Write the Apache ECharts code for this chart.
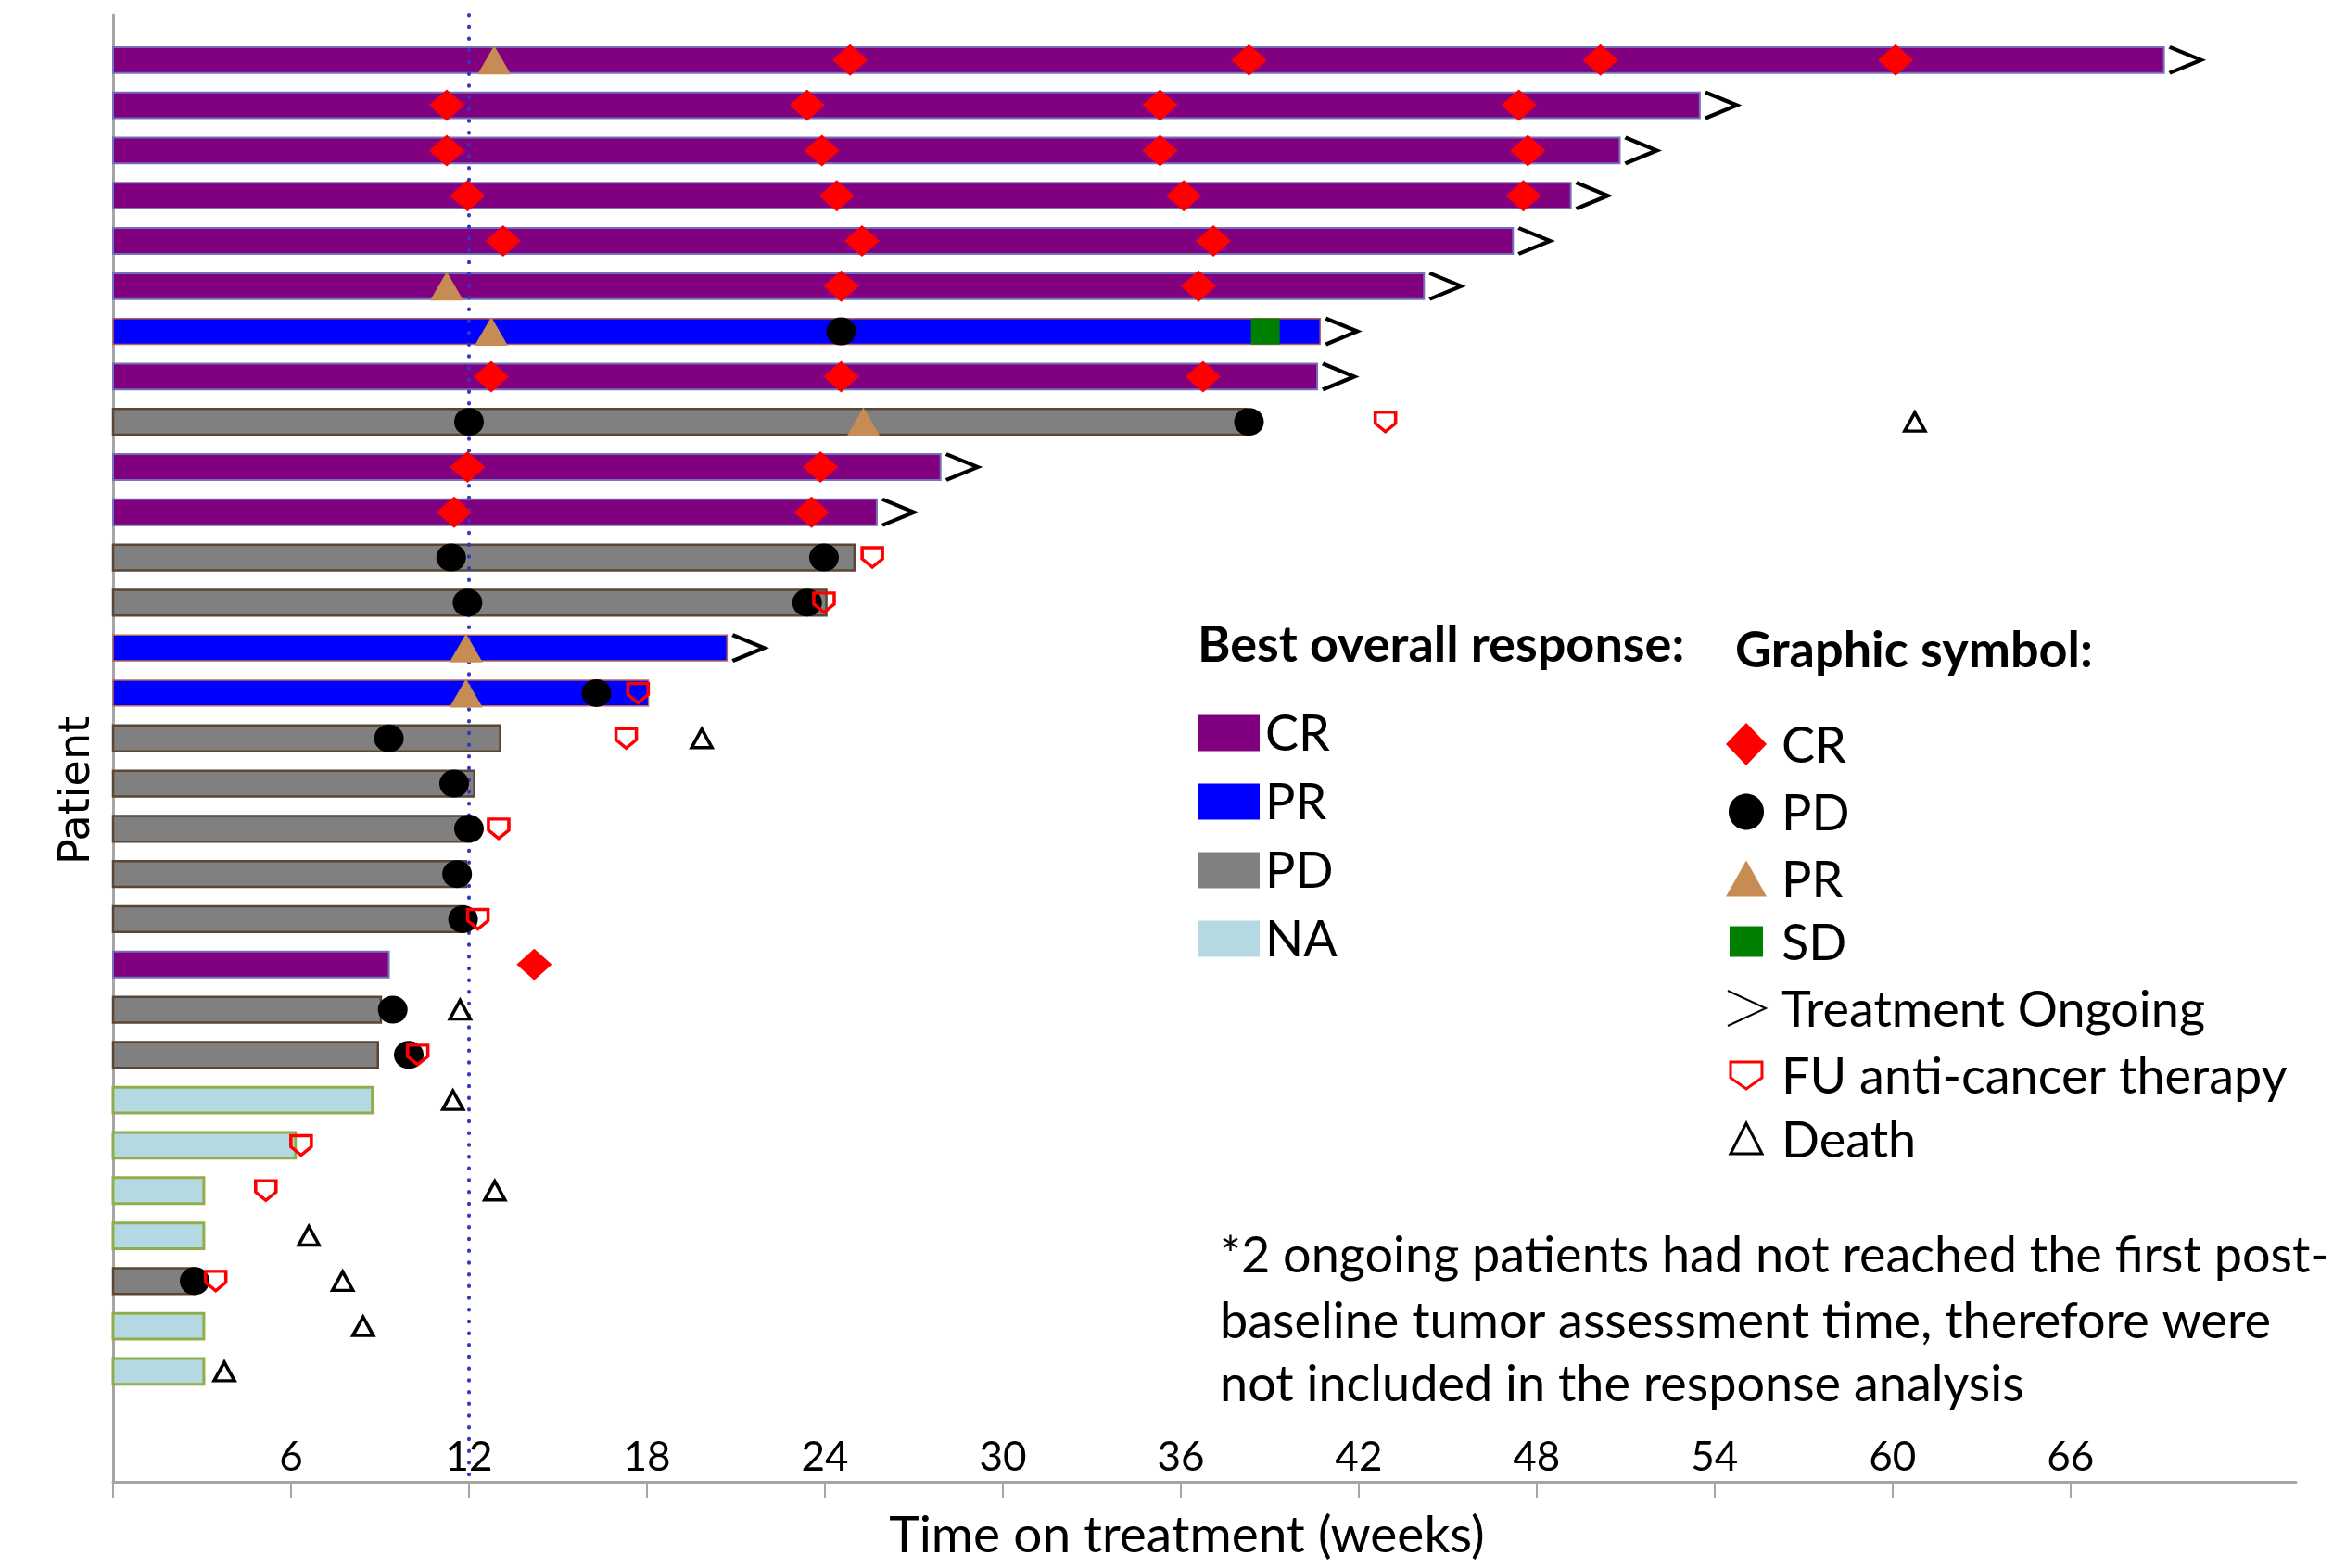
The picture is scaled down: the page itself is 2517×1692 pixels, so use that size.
<!DOCTYPE html>
<html>
<head>
<meta charset="utf-8">
<script src="https://cdn.jsdelivr.net/npm/echarts@6/dist/echarts.min.js"></script>
<style>
html,body{margin:0;padding:0;background:#fff;}
#chart{width:2517px;height:1692px;}
</style>
</head>
<body>
<div id="chart"></div>
<script>
// ---------------- DATA ----------------
// Patients from top (1) to bottom (30)
const bestResponse = ['CR','CR','CR','CR','CR','CR','PR','CR','PD','CR','CR','PD','PD','PR','PR',
                      'PD','PD','PD','PD','PD','CR','PD','PD','NA','NA','NA','NA','PD','NA','NA'];
const treatmentWeeks = [69.15, 53.5, 50.8, 49.15, 47.2, 44.2, 40.7, 40.6, 38.2, 27.9, 25.75, 25.0, 24.05, 20.7, 18.05,
                        13.05, 12.18, 12.05, 11.9, 11.85, 9.3, 9.03, 8.93, 8.74, 6.15, 3.06, 3.06, 2.75, 3.06, 3.06];
const ongoingFlag = [1,1,1,1,1,1,1,1,0,1,1,0,0,1,0, 0,0,0,0,0,0,0,0,0,0,0,0,0,0,0];

// [week, patient]
const crMarks = [[24.85,1],[38.3,1],[50.15,1],[60.1,1],[11.25,2],[23.4,2],[35.3,2],[47.4,2],
                 [11.25,3],[23.9,3],[35.3,3],[47.7,3],[11.95,4],[24.4,4],[36.1,4],[47.55,4],
                 [13.15,5],[25.25,5],[37.1,5],[24.55,6],[36.6,6],[12.75,8],[24.55,8],[36.75,8],
                 [11.95,10],[23.85,10],[11.5,11],[23.55,11],[14.2,21]];
const pdMarks = [[24.55,7],[12.0,9],[38.3,9],[11.4,12],[23.97,12],[11.95,13],[23.4,13],[16.3,15],
                 [9.3,16],[11.5,17],[12.0,18],[11.6,19],[11.8,20],[9.43,22],[9.97,23],[2.75,28]];
const prMarks = [[12.85,1],[11.25,6],[12.75,7],[25.3,9],[11.9,14],[11.9,15]];
const sdMarks = [[38.85,7]];
const fuMarks = [[42.9,9],[25.6,12],[23.97,13],[17.7,15],[17.3,16],[13.0,18],[12.3,20],[10.27,23],
                 [6.34,25],[5.15,26],[3.46,28]];
const deathMarks = [[60.75,9],[19.85,16],[11.7,22],[11.46,24],[12.87,26],[6.6,27],[7.74,28],[8.43,29],[3.75,30]];

const assessmentWeek = 12;
const xTickValues = [0,6,12,18,24,30,36,42,48,54,60,66];
const xLabelValues = [6,12,18,24,30,36,42,48,54,60,66];

const responseNames = ['CR','PR','PD','NA'];
const symbolNames = ['CR','PD','PR','SD','Treatment Ongoing','FU anti-cancer therapy','Death'];
const footnoteLines = ['*2 ongoing patients had not reached the first post-',
                       'baseline tumor assessment time, therefore were',
                       'not included in the response analysis'];

// ---------------- STYLE ----------------
const FONT = 'Lato';
const BAR_THICK = 0.57;
const barStyles = {
  CR: {fill:'#800080', stroke:'#7272b8', lw:2},
  PR: {fill:'#0000ff', stroke:'#b8645a', lw:1.5},
  PD: {fill:'#808080', stroke:'#5a4633', lw:2.5},
  NA: {fill:'#b5d9e3', stroke:'#8fae4a', lw:3}
};

function barSeries(cat) {
  const st = barStyles[cat];
  const data = [];
  treatmentWeeks.forEach((w, i) => { if (bestResponse[i] === cat) data.push([w, i + 1]); });
  return {
    type: 'custom', name: cat + ' response', z: 2, silent: true,
    encode: {x: 0, y: 1},
    data: data,
    renderItem: function (params, api) {
      const end = api.value(0), row = api.value(1);
      const p0 = api.coord([0, row]);
      const p1 = api.coord([end, row]);
      const h = Math.abs(api.size([0, BAR_THICK])[1]);
      return {
        type: 'rect',
        shape: {x: p0[0], y: p0[1] - h / 2, width: p1[0] - p0[0], height: h},
        style: {fill: st.fill, stroke: st.stroke, lineWidth: st.lw}
      };
    }
  };
}

function markSeries(name, data, symbol, size, itemStyle, z, extra) {
  return Object.assign({
    type: 'scatter', name: name, data: data, symbol: symbol, symbolSize: size,
    itemStyle: Object.assign({opacity: 1}, itemStyle), z: z, silent: true, animation: false
  }, extra || {});
}

const ongoingData = [];
treatmentWeeks.forEach((w, i) => { if (ongoingFlag[i]) ongoingData.push([w, i + 1]); });

const series = [
  barSeries('CR'), barSeries('PR'), barSeries('PD'), barSeries('NA'),
  {
    type: 'scatter', name: 'assessment', data: [], z: 3, silent: true,
    markLine: {
      silent: true, symbol: ['none', 'none'], animation: false,
      label: {show: false},
      lineStyle: {color: '#3434c4', width: 4, type: [0.5, 12.2], cap: 'round', opacity: 1},
      data: [{xAxis: assessmentWeek}]
    }
  },
  markSeries('CR mark', crMarks, 'diamond', [38, 34], {color: '#ff0000'}, 5),
  markSeries('PD mark', pdMarks, 'circle', [32, 30], {color: '#000000'}, 5),
  markSeries('PR mark', prMarks, 'triangle', [36, 31], {color: '#c68c53'}, 6),
  markSeries('SD mark', sdMarks, 'rect', [31, 28], {color: '#008000'}, 5),
  markSeries('Ongoing', ongoingData, 'path://M0,0 L35,14 L0,28', [34, 28],
             {color: 'transparent', borderColor: '#000000', borderWidth: 4.5}, 7, {symbolOffset: [23, 0]}),
  markSeries('FU', fuMarks, 'path://M0,0 L20,0 L20,12 L10,21 L0,12 Z', [22, 21],
             {color: 'transparent', borderColor: '#ff0000', borderWidth: 3.5}, 8),
  markSeries('Death', deathMarks, 'triangle', [22, 20],
             {color: 'transparent', borderColor: '#000000', borderWidth: 3.5}, 8)
];

// ---------------- LEGEND / TEXT (graphic) ----------------
const graphics = [];
function txt(text, x, y, size, opts) {
  opts = opts || {};
  graphics.push({
    type: 'text', x: x, y: y, rotation: opts.rotation || 0, silent: true,
    style: {
      text: text, fill: '#000',
      font: (opts.bold ? 'bold ' : '') + size + 'px ' + (opts.family || FONT),
      textAlign: opts.align || 'left', textVerticalAlign: 'middle', verticalAlign: 'middle'
    }
  });
}
txt('Patient', 84, 853, 46, {family: '"DejaVu Sans"', align: 'center', rotation: Math.PI / 2});

txt('Best overall response:', 1292, 697, 54, {bold: true});
txt('Graphic symbol:', 1872, 703, 54, {bold: true});

const respColors = {CR: '#800080', PR: '#0000ff', PD: '#808080', NA: '#b5d9e3'};
const respY = [791, 865, 939, 1013];
responseNames.forEach((n, i) => {
  graphics.push({type: 'rect', silent: true, shape: {x: 1292, y: respY[i] - 19.5, width: 67, height: 39},
                 style: {fill: respColors[n]}});
  txt(n, 1365, respY[i] + 2, 54);
});

const symY = [803, 876, 948, 1016, 1088, 1160, 1229];
const cx = 1884;
graphics.push({type: 'polygon', silent: true,
  shape: {points: [[cx - 22, symY[0]], [cx, symY[0] - 23], [cx + 22, symY[0]], [cx, symY[0] + 23]]},
  style: {fill: '#ff0000'}});
graphics.push({type: 'ellipse', silent: true, shape: {cx: cx, cy: symY[1], rx: 19, ry: 19.5},
  style: {fill: '#000'}});
graphics.push({type: 'polygon', silent: true,
  shape: {points: [[cx, symY[2] - 19.5], [cx + 22, symY[2] + 19.5], [cx - 22, symY[2] + 19.5]]},
  style: {fill: '#c68c53'}});
graphics.push({type: 'rect', silent: true, shape: {x: cx - 18, y: symY[3] - 16.5, width: 36, height: 33},
  style: {fill: '#008000'}});
graphics.push({type: 'polyline', silent: true,
  shape: {points: [[cx - 20, symY[4] - 19], [cx + 21, symY[4]], [cx - 20, symY[4] + 19]]},
  style: {stroke: '#000', lineWidth: 2, fill: null}});
graphics.push({type: 'polygon', silent: true,
  shape: {points: [[cx - 17, symY[5] - 14], [cx + 17, symY[5] - 14], [cx + 17, symY[5] + 3],
                   [cx, symY[5] + 15], [cx - 17, symY[5] + 3]]},
  style: {stroke: '#ff0000', lineWidth: 3, fill: '#fff'}});
graphics.push({type: 'polygon', silent: true,
  shape: {points: [[cx, symY[6] - 17], [cx + 17, symY[6] + 16], [cx - 17, symY[6] + 16]]},
  style: {stroke: '#000', lineWidth: 3, fill: '#fff'}});
symbolNames.forEach((n, i) => txt(n, 1922, symY[i] + 3, 54));

const footY = [1356, 1427, 1495];
footnoteLines.forEach((l, i) => txt(l, 1316, footY[i], 54));

// ---------------- CHART ----------------
const chart = echarts.init(document.getElementById('chart'), null, {renderer: 'canvas'});
chart.setOption({
  backgroundColor: '#ffffff',
  animation: false,
  grid: {left: 122, right: 40, top: 16, bottom: 93, containLabel: false},
  xAxis: {
    type: 'value', min: 0, max: 73.6, interval: 6,
    name: 'Time on treatment (weeks)', nameLocation: 'middle', nameGap: 31,
    nameTextStyle: {fontFamily: FONT, fontSize: 55, color: '#000', padding: [0, 38, 0, 0]},
    axisLine: {show: true, onZero: false, lineStyle: {color: '#a6a6a6', width: 3}},
    axisTick: {show: true, inside: false, length: 17, customValues: xTickValues,
               lineStyle: {color: '#a6a6a6', width: 2}},
    axisLabel: {show: true, inside: true, margin: 4, customValues: xLabelValues,
                fontFamily: FONT, fontSize: 44, color: '#000'},
    splitLine: {show: false}
  },
  yAxis: {
    type: 'value', inverse: true, min: 0, max: 32.44,
    axisLine: {show: true, onZero: false, lineStyle: {color: '#a6a6a6', width: 3}},
    axisTick: {show: false}, axisLabel: {show: false}, splitLine: {show: false}
  },
  series: series,
  graphic: {elements: graphics}
});
</script>
</body>
</html>
